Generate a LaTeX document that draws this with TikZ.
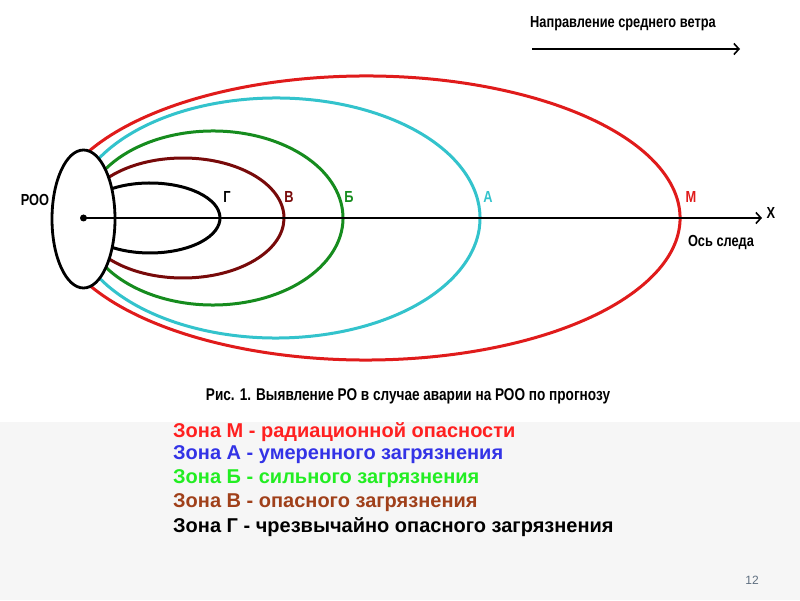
\documentclass[tikz,border=0pt]{standalone}
\usepackage{fontspec}
\setmainfont{Liberation Sans}
\newfontfamily\narrowfont{Liberation Sans}[FakeStretch=0.8]
\usetikzlibrary{arrows.meta,shapes.geometric}
\definecolor{cM}{HTML}{E01B1B}
\definecolor{cA}{HTML}{33C3CC}
\definecolor{cB}{HTML}{168C1E}
\definecolor{cV}{HTML}{780A0A}
\definecolor{lgM}{HTML}{FF2020}
\definecolor{lgA}{HTML}{3333E6}
\definecolor{lgB}{HTML}{22EE22}
\definecolor{lgV}{HTML}{A0401A}
\definecolor{pgnum}{HTML}{5F6F80}
\definecolor{bgbottom}{HTML}{F6F6F6}
\begin{document}
\begin{tikzpicture}[x=1pt,y=1pt,
  zone/.style={line width=3pt},
  lbl/.style={font=\narrowfont\bfseries\fontsize{16}{18}\selectfont, inner sep=0pt},
  legend/.style={font=\bfseries\fontsize{20}{23}\selectfont, anchor=west, inner sep=0pt},
  barb/.style={-{Straight Barb[length=5pt,width=11pt,line width=1.6pt]}}
]
\fill[white] (0,0) rectangle (800,600);
\fill[bgbottom] (0,0) rectangle (800,178);
\useasboundingbox (0,0) rectangle (800,600);

% zone curves
\draw[zone, cM, shift={(366,382)}] (153:314pt and 142pt) arc[start angle=153, end angle=-153, x radius=314pt, y radius=142pt];
\draw[zone, cA, shift={(276,382)}] (152:204pt and 120pt) arc[start angle=152, end angle=-152, x radius=204pt, y radius=120pt];
\draw[zone, cB, shift={(213,382)}] (148:130pt and 87pt) arc[start angle=148, end angle=-148, x radius=130pt, y radius=87pt];
\draw[zone, cV, shift={(183,382)}] (139:101pt and 60pt) arc[start angle=139, end angle=-139, x radius=101pt, y radius=60pt];
\draw[zone, black, shift={(150,382)}] (125:70pt and 35pt) arc[start angle=125, end angle=-125, x radius=70pt, y radius=35pt];

% source
\node[draw, line width=2.8pt, fill=white, ellipse, inner sep=0pt, outer sep=0pt, minimum width=63pt, minimum height=138pt] (roo) at (83.5,381) {};
\node[circle, fill=black, inner sep=0pt, minimum size=7pt] (dot) at (83.5,382) {};
\coordinate (tip) at (762,382);
\draw[line width=2.2pt, barb] (dot.center) -- (tip);

% labels
\node[lbl] (lroo) at (35,400) {РОО};
\node[lbl] (lG) at (227,403) {Г};
\node[lbl, cV] (lV) at (289,403) {В};
\node[lbl, cB] (lB) at (349,403) {Б};
\node[lbl, cA] (lA) at (488,403) {А};
\node[lbl, cM] (lM) at (691,403) {М};
\node[lbl] (lX) at (771,387) {X};
\node[lbl] (axisname) at (721,357) {Ось следа};

% wind
\node[lbl, anchor=west] (wind) at (530,576) {Направление среднего ветра};
\coordinate (w1) at (532,551);
\coordinate (w2) at (740,551);
\draw[line width=2pt, barb] (w1) -- (w2);

% caption
\node[lbl, font=\narrowfont\bfseries\fontsize{17}{19}\selectfont] (caption) at (408,204) {Рис. 1. Выявление РО в случае аварии на РОО по прогнозу};

% legend
\node[legend, lgM] (legM) at (173,168) {Зона М - радиационной опасности};
\node[legend, lgA] (legA) at (173,145) {Зона А - умеренного загрязнения};
\node[legend, lgB] (legB) at (173,121) {Зона Б - сильного загрязнения};
\node[legend, lgV] (legV) at (173,97) {Зона В - опасного загрязнения};
\node[legend, black] (legG) at (173,73) {Зона Г - чрезвычайно опасного загрязнения};

\node[font=\fontsize{12}{14}\selectfont, text=pgnum, inner sep=0pt] (page) at (752,20) {12};
\end{tikzpicture}
\end{document}
